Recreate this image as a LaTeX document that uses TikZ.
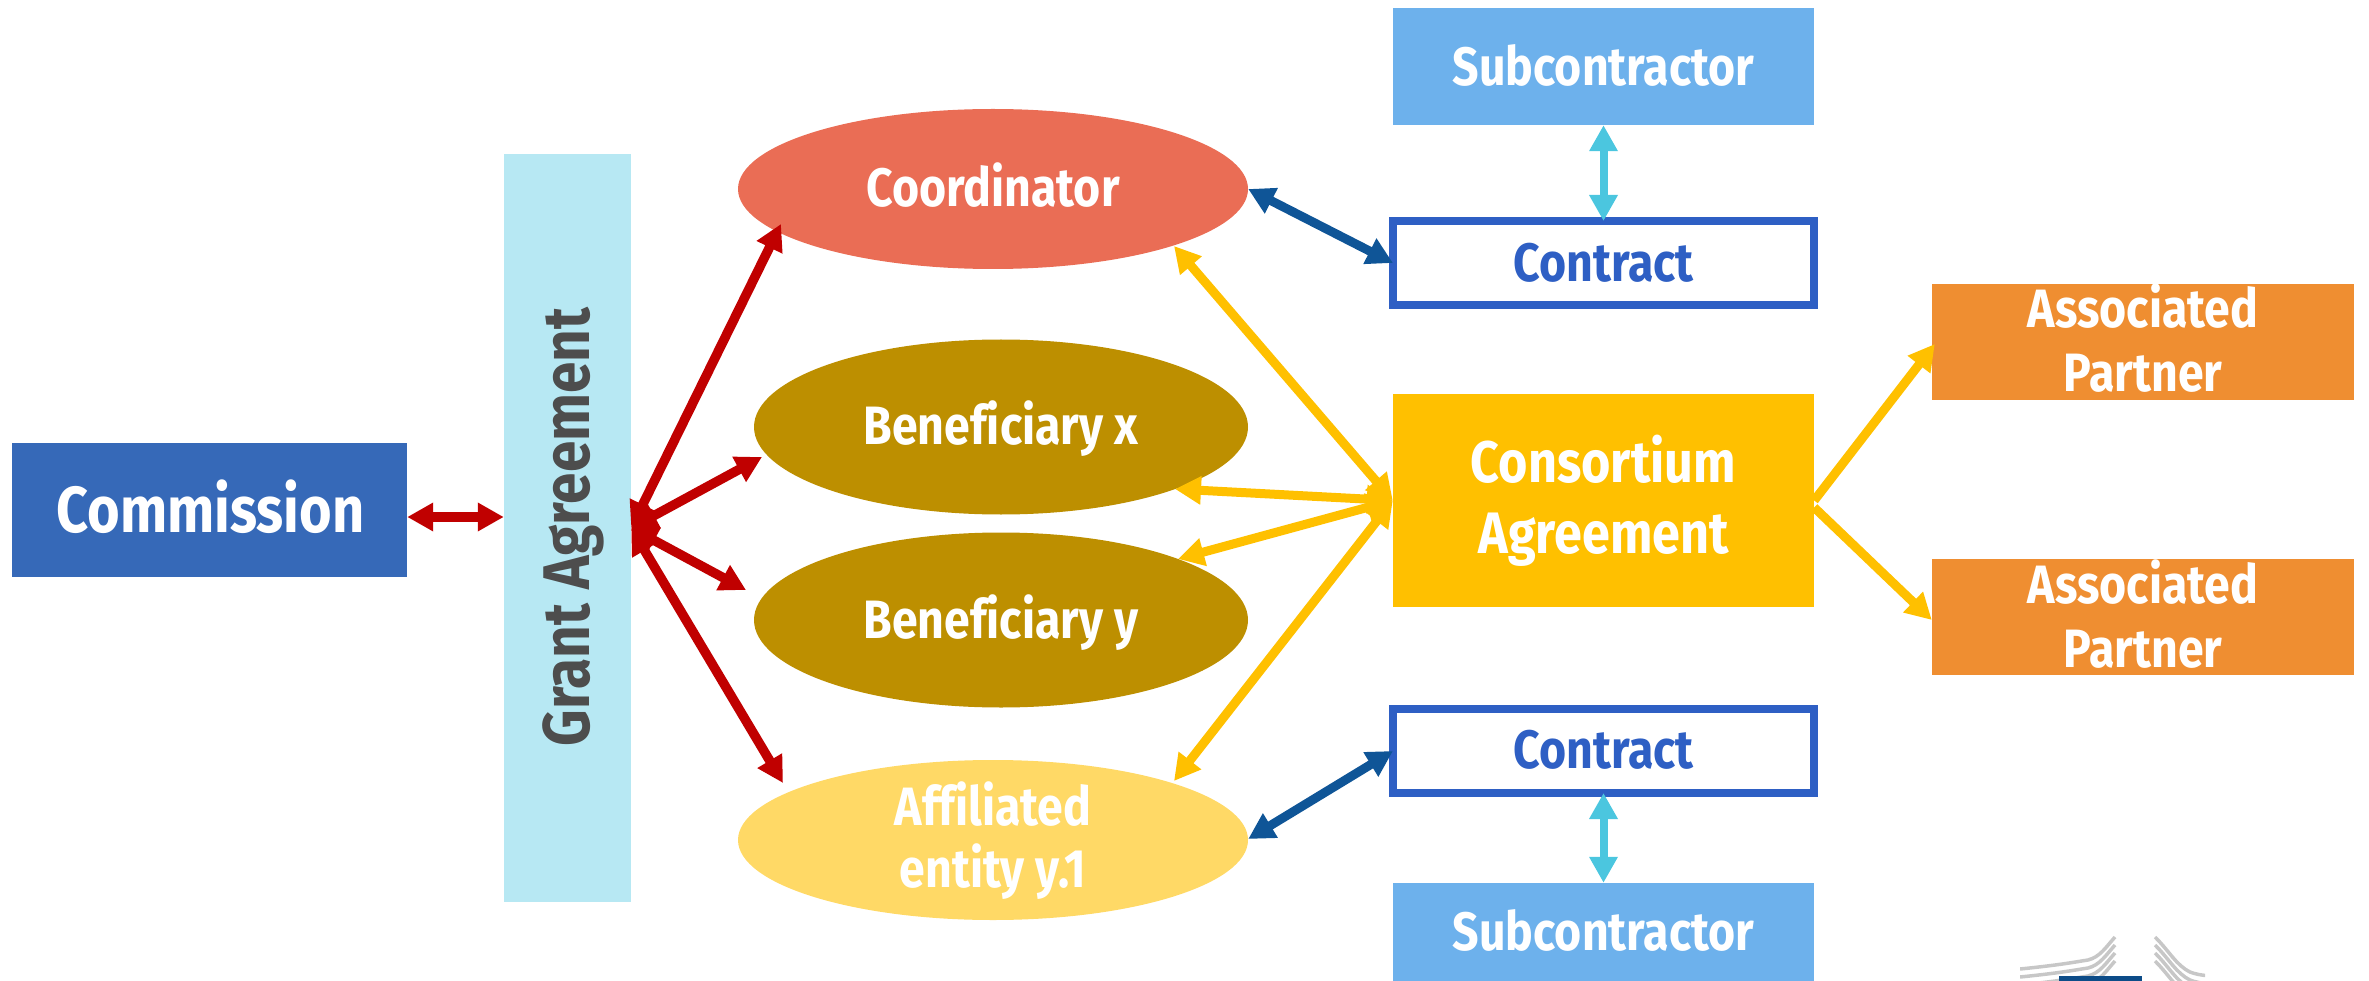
\documentclass[tikz,border=0pt]{standalone}
\usepackage{fontspec}
\setmainfont{Fira Sans}[FakeStretch=0.86,Ligatures=NoCommon]
\usetikzlibrary{arrows.meta,shapes.geometric}
\definecolor{cred}{HTML}{C00000}
\definecolor{cyel}{HTML}{FFC000}
\definecolor{cblu}{HTML}{0F5597}
\definecolor{ccya}{HTML}{4BC6DF}
\definecolor{cedge}{HTML}{2E5FC4}
\definecolor{ccomm}{HTML}{3669B8}
\definecolor{cgrant}{HTML}{B7E8F3}
\definecolor{cgtext}{HTML}{4D4D4D}
\definecolor{ccoord}{HTML}{EA6D55}
\definecolor{cbenef}{HTML}{BD8F00}
\definecolor{caffil}{HTML}{FFD966}
\definecolor{csub}{HTML}{6DB1EC}
\definecolor{cassoc}{HTML}{EF8E31}
\newcommand{\up}[2]{\raisebox{#1pt}[\height][\depth]{#2}}
\tikzset{
 x=1pt,y=-1pt,
 box/.style={rectangle,inner sep=0pt,align=center,text=white,font=\fontsize{54}{64}\selectfont\bfseries},
 ell/.style={ellipse,inner sep=0pt,align=center,text=white,font=\fontsize{54}{65}\selectfont\bfseries},
 contractbox/.style={rectangle,draw=cedge,line width=8pt,fill=white,inner sep=0pt,minimum width=421pt,minimum height=84pt,text=cedge,font=\fontsize{54}{60}\selectfont\bfseries},
 headtip/.tip={Triangle[length=26pt,width=27pt]},
 dbl/.style={line width=9pt,headtip-headtip},
 redar/.style={dbl,line width=9.5pt,color=cred},
 yelar/.style={dbl,color=cyel},
 bluar/.style={dbl,color=cblu},
 cyaar/.style={dbl,line width=8pt,color=ccya},
 logoline/.style={draw=black!22,line width=3.5pt},
}
\begin{document}
\begin{tikzpicture}
\useasboundingbox (0,0) rectangle (2369,981);
% nodes
\node[box,fill=ccomm,minimum width=395pt,minimum height=134pt,font=\fontsize{65}{70}\selectfont\bfseries] (comm) at (209.5,510) {\up{3}{\hspace{2pt}Commission}};
\node[box,fill=cgrant,minimum width=127pt,minimum height=748pt] (grant) at (567.5,528) {};
\node[rotate=90,text=cgtext,inner sep=0pt,font=\fontsize{66}{60}\selectfont\bfseries] (granttext) at (573,527) {Grant Agreement};
\node[ell,fill=ccoord,minimum width=510pt,minimum height=160pt] (coord) at (993,189) {\up{4}{Coordinator}};
\node[ell,fill=cbenef,minimum width=494pt,minimum height=175pt] (benx) at (1001,427) {\up{-2}{Beneficiary x}};
\node[ell,fill=cbenef,minimum width=494pt,minimum height=175pt] (beny) at (1001,620) {\up{-3}{Beneficiary y}};
\node[ell,fill=caffil,inner ysep=-12pt,minimum width=510pt,minimum height=160pt] (affil) at (993,840) {\up{-2.5}{Affiliated}\\\up{1}{entity y.1}};
\node[box,fill=csub,minimum width=421pt,minimum height=117pt] (subtop) at (1603.5,66.5) {\up{1.5}{Subcontractor}};
\node[contractbox] (contop) at (1603.5,263) {Contract};
\node[box,fill=cyel,minimum width=421pt,minimum height=213pt,font=\fontsize{58.5}{71}\selectfont\bfseries] (cons) at (1603.5,500.5) {Consortium\\Agreement};
\node[contractbox] (conbot) at (1603.5,751) {\up{1.5}{Contract}};
\node[box,fill=csub,minimum width=421pt,minimum height=98pt] (subbot) at (1603.5,932) {\up{1.5}{Subcontractor}};
\node[box,fill=cassoc,minimum width=422pt,minimum height=116pt] (assa) at (2143,342) {\up{3.5}{Associated}\\\up{3.5}{Partner}};
\node[box,fill=cassoc,minimum width=422pt,minimum height=116pt] (assb) at (2143,617) {\up{3}{Associated}\\\up{3}{Partner}};
% connectors
\draw[redar] ([shift={(0,7)}]comm.east) -- ([shift={(0,7)}]comm.east -| grant.west);
\draw[redar] (grant.east) -- ([shift={(-212,35)}]coord.center);
\draw[redar] (grant.east) -- ([shift={(-239,30)}]benx.center);
\draw[redar] (grant.east) -- ([shift={(-255,-30)}]beny.center);
\draw[redar] (grant.east) -- ([shift={(-210,-57)}]affil.center);
\draw[yelar] ([shift={(181,57)}]coord.center) -- (cons.west);
\draw[yelar] ([shift={(174,62)}]benx.center) -- (cons.west);
\draw[yelar] ([shift={(177,-61)}]beny.center) -- (cons.west);
\draw[yelar] ([shift={(181,-59)}]affil.center) -- (cons.west);
\draw[yelar,-headtip] (cons.east) -- ([shift={(3,2)}]assa.west);
\draw[yelar,-headtip] ([shift={(0,7)}]cons.east) -- ([shift={(0,3)}]assb.west);
\draw[bluar] (coord.east) -- ([shift={(4,0)}]contop.west);
\draw[bluar] ([shift={(0,-1)}]affil.east) -- ([shift={(4,0)}]conbot.west);
\draw[cyaar] (subtop.south) -- ([shift={(0,4)}]contop.north);
\draw[cyaar] ([shift={(0,-4)}]conbot.south) -- (subbot.north);
% logo
\begin{scope}
\clip (2020,930) rectangle (2205,981);
\foreach \d in {0,8,16,24}{
 \draw[logoline] (2020,{969+\d}) .. controls (2060,{965+\d}) and (2075,{962+\d}) .. (2088,{960+\d}) .. controls (2100,{957+\d}) and (2106,{947+\d}) .. (2115,{937+\d});
 \draw[logoline] (2155,{937+\d}) .. controls (2170,{952+\d}) and (2176,{965+\d}) .. (2190,{972+\d}) .. controls (2195,{974+\d}) and (2200,{975+\d}) .. (2210,{976+\d});
}
\end{scope}
\fill[color=cblu!90!black] (2059,976) rectangle (2142,981);
\end{tikzpicture}
\end{document}
